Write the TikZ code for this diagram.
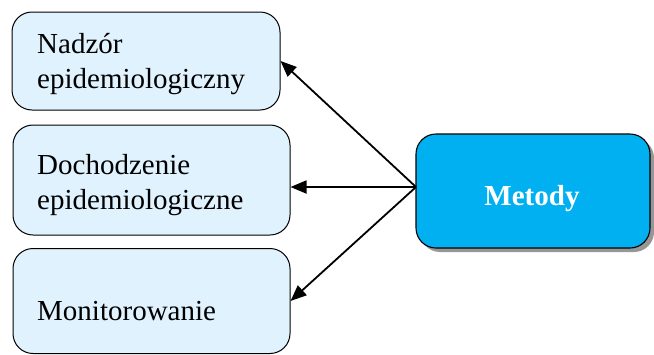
\documentclass[tikz,border=0pt]{standalone}
\usepackage{fontspec}
\setmainfont{Liberation Serif}
\usetikzlibrary{arrows.meta,shadows}
\definecolor{boxfill}{RGB}{224,242,254}
\definecolor{methfill}{RGB}{0,176,240}
\definecolor{shadowgray}{RGB}{150,150,150}
\begin{document}
\begin{tikzpicture}[x=1pt,y=-1pt,
  box/.style={draw=black, line width=1pt, fill=boxfill, rounded corners=20pt, inner sep=0pt},
  mainbox/.style={draw=black, line width=1.1pt, fill=methfill, rounded corners=20pt, inner sep=0pt,
    drop shadow={shadow xshift=4pt, shadow yshift=-4pt, fill=shadowgray, opacity=1}},
  txt/.style={anchor=base west, inner sep=0pt, font=\fontsize{29}{35}\selectfont, align=left},
  link/.style={-{Triangle[length=16pt,width=13pt]}, line width=1.8pt}]
\useasboundingbox (0,0) rectangle (654,354);

% left boxes
\node[box, minimum width=268pt, minimum height=98pt] (b1) at (146,61) {};
\node[box, minimum width=277pt, minimum height=110pt] (b2) at (151.5,180) {};
\node[box, minimum width=277pt, minimum height=105pt] (b3) at (151.5,301) {};

% method box
\node[mainbox, minimum width=234pt, minimum height=114pt] (m) at (533,191) {};

% labels (base anchor sits on the last line)
\node[txt] (t1) at (37,88) {Nadzór\\epidemiologiczny};
\node[txt] (t2) at (37,209) {Dochodzenie\\epidemiologiczne};
\node[txt] (t3) at (37,320) {Monitorowanie};
\node[anchor=base, inner sep=0pt, text=white, font=\fontsize{29}{35}\selectfont\bfseries] (tm) at (532,205) {Metody};

% connectors
\coordinate (hub) at (416,187);
\draw[link] (hub) -- (b1.east);
\draw[link] (hub) -- (b2.east |- hub);
\draw[link] (hub) -- (b3.east);
\end{tikzpicture}
\end{document}
